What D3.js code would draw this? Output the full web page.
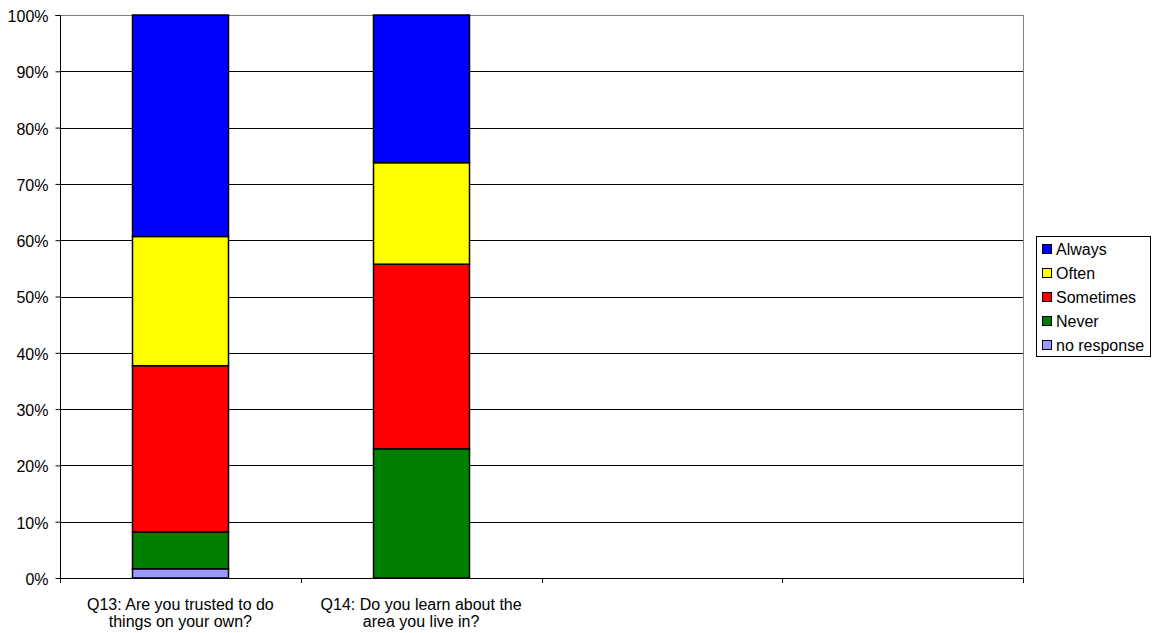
<!DOCTYPE html>
<html><head><meta charset="utf-8">
<script src="https://cdn.jsdelivr.net/npm/d3@7"></script>
<style>body{margin:0;background:#fff;font-family:"Liberation Sans",Arial,sans-serif;}</style>
</head><body>
<svg id="c" width="1155" height="633"></svg>
<script>
const categories = ["Q13: Are you trusted to do|things on your own?", "Q14: Do you learn about the|area you live in?", "", ""];
const seriesNames = ["no response", "Never", "Sometimes", "Often", "Always"];
const noResponse = [1.64, 0, null, null];
const never = [6.56, 22.95, null, null];
const sometimes = [29.51, 32.79, null, null];
const often = [22.95, 18.03, null, null];
const always = [39.34, 26.23, null, null];
const yTicks = [0,10,20,30,40,50,60,70,80,90,100];
const colors = {"Always":"#0000FF","Often":"#FFFF00","Sometimes":"#FF0000","Never":"#008000","no response":"#9999FF"};
const legendOrder = ["Always","Often","Sometimes","Never","no response"];

const FS = 16;
const svg = d3.select("#c");
const L=60, R=1023, T=15, B=578;
const x = d3.scaleBand().domain(d3.range(categories.length)).range([L,R]).paddingInner(0).paddingOuter(0);
const y = d3.scaleLinear().domain([0,100]).range([B,T]);

// gridlines
svg.append("g").selectAll("line").data(yTicks.filter(t=>t>0&&t<100)).join("line")
  .attr("x1",L).attr("x2",R).attr("y1",d=>Math.round(y(d))+0.5).attr("y2",d=>Math.round(y(d))+0.5)
  .attr("stroke","#000").attr("stroke-width",1);
svg.append("line").attr("x1",L).attr("x2",R+0.5).attr("y1",T+0.5).attr("y2",T+0.5).attr("stroke","#808080");
svg.append("line").attr("x1",R+0.5).attr("x2",R+0.5).attr("y1",T).attr("y2",B).attr("stroke","#808080");

// stacked bars
const data = categories.map((c,i)=>({i, "no response":noResponse[i], "Never":never[i], "Sometimes":sometimes[i], "Often":often[i], "Always":always[i]}));
const stack = d3.stack().keys(seriesNames).value((d,k)=>d[k]||0);
const stacked = stack(data);
const bw = x.bandwidth()*0.4;
stacked.forEach(s=>{
  svg.append("g").selectAll("rect").data(s.filter(d=>d[1]-d[0]>0)).join("rect")
    .attr("x",d=>Math.round(x(d.data.i)+(x.bandwidth()-bw)/2)+0.5)
    .attr("width",Math.round(bw))
    .attr("y",d=>y(d[1]))
    .attr("height",d=>y(d[0])-y(d[1]))
    .attr("fill",colors[s.key]).attr("stroke","#000").attr("stroke-width",1.5);
});

// y axis
const ya = svg.append("g").attr("transform",`translate(${L+0.5},0)`)
  .call(d3.axisLeft(y).tickValues(yTicks).tickFormat(d=>d+"%").tickSize(5).tickPadding(7));
ya.attr("font-size",FS).attr("font-family","Liberation Sans, Arial, sans-serif");
ya.select(".domain").attr("stroke","#000").attr("d",`M-5,${T+0.5}H0V${B}`);
ya.selectAll(".tick line").attr("stroke","#000");
ya.selectAll("text").attr("font-size",FS).attr("fill","#000").attr("dy","0.4em");

// x axis
svg.append("line").attr("x1",L).attr("x2",R+1).attr("y1",B+0.5).attr("y2",B+0.5).attr("stroke","#000");
svg.append("g").selectAll("line").data(d3.range(categories.length+1)).join("line")
  .attr("x1",d=>Math.round(L+d*x.bandwidth())+0.5).attr("x2",d=>Math.round(L+d*x.bandwidth())+0.5)
  .attr("y1",B).attr("y2",B+5).attr("stroke","#000");
const xl = svg.append("g").selectAll("text").data(categories.map((c,i)=>({c,i}))).join("text")
  .attr("text-anchor","middle").attr("font-size",FS).attr("fill","#000")
  .attr("x",d=>x(d.i)+x.bandwidth()/2);
xl.each(function(d){
  const lines = d.c ? d.c.split("|") : [];
  d3.select(this).selectAll("tspan").data(lines).join("tspan")
    .attr("x",x(d.i)+x.bandwidth()/2).attr("y",(l,j)=>610+j*17).text(l=>l);
});

// legend
const lg = svg.append("g");
lg.append("rect").attr("x",1036.5).attr("y",236.5).attr("width",114).attr("height",120)
  .attr("fill","#fff").attr("stroke","#000");
legendOrder.forEach((k,j)=>{
  const yy = 249 + j*24;
  lg.append("rect").attr("x",1042.5).attr("y",yy-4.5).attr("width",9).attr("height",9)
    .attr("fill",colors[k]).attr("stroke","#000");
  lg.append("text").attr("x",1056).attr("y",yy+6).attr("font-size",FS).attr("fill","#000").text(k);
});
</script>
</body></html>
